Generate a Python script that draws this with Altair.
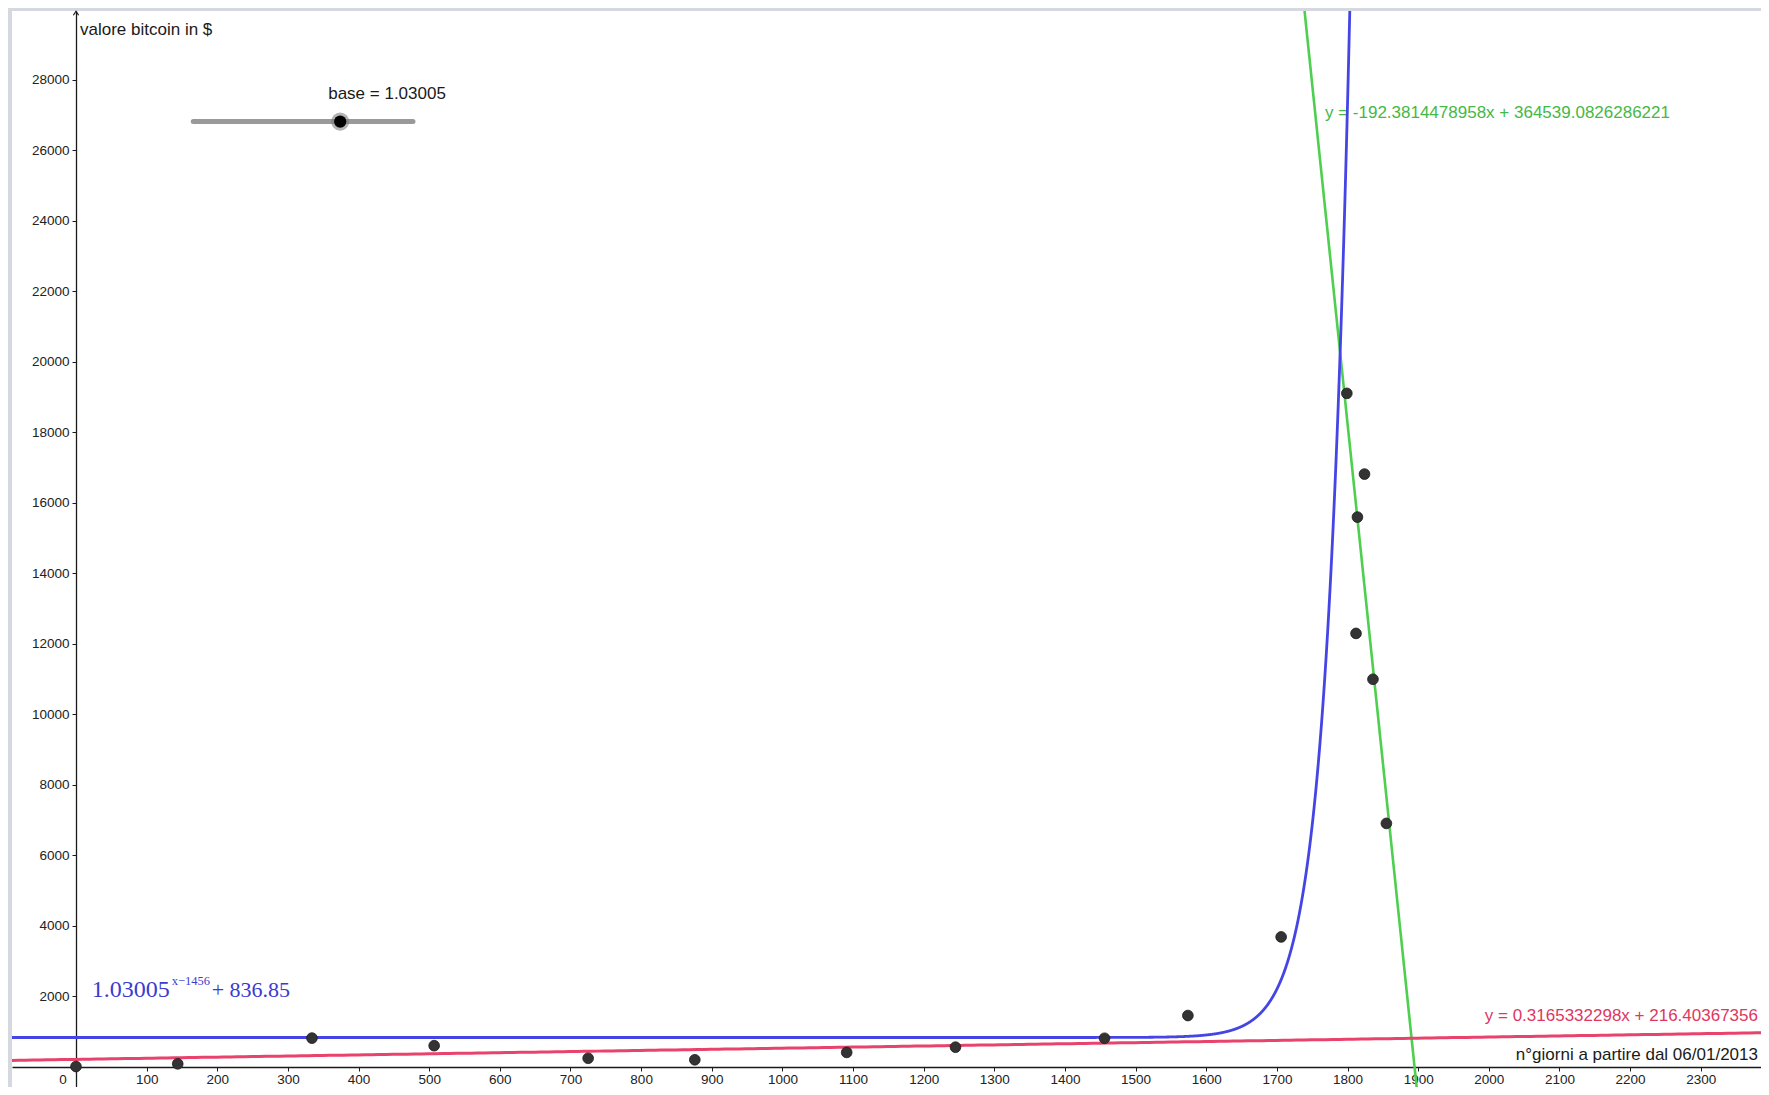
import altair as alt
import pandas as pd

# ---------------- data ----------------
days = [0, 144, 334, 507, 725, 876, 1091, 1245, 1456, 1574, 1706,
        1799, 1824, 1814, 1812, 1836, 1855]
price = [13, 90, 820, 605, 248, 205, 414, 562, 815, 1460, 3690,
         19110, 16820, 15600, 12300, 11000, 6910]

x_ticks = list(range(100, 2400, 100))
y_ticks = list(range(2000, 30000, 2000))

# fitted functions shown in the picture
exp_base, exp_shift, exp_const = 1.03005, 1456, 836.85
green_m, green_q = -192.3814478958, 364539.0826286221
red_m, red_q = 0.3165332298, 216.40367356

# slider "base"
slider_x = [166, 477]
slider_y = 26820
knob_x = 374

X_DOMAIN = [-90.6, 2385.3]
Y_DOMAIN = [-567.4, 29957]
W, H = 1749, 1076

FONT = "Liberation Sans, Arial, sans-serif"
SERIF = "Liberation Serif, Times New Roman, serif"
BLUE = "#4545e6"
RED = "#e8436c"
GREEN = "#4fcf4f"

xs = alt.Scale(domain=X_DOMAIN, nice=False, zero=False)
ys = alt.Scale(domain=Y_DOMAIN, nice=False, zero=False)

x_axis = alt.Axis(orient="bottom", offset=-20, values=x_ticks, title=None, grid=False,
                  format="d",
                  domainColor="#1a1a1a", domainWidth=1.3, tickColor="#1a1a1a",
                  tickSize=4, tickWidth=1, labelFont=FONT, labelFontSize=13.5,
                  labelColor="#222222", labelPadding=1, labelFlush=False,
                  labelOverlap=False)
y_axis = alt.Axis(orient="left", offset=-64, values=y_ticks, title=None, grid=False,
                  format="d",
                  domainColor="#1a1a1a", domainWidth=1.3, tickColor="#1a1a1a",
                  tickSize=4, tickWidth=1, labelFont=FONT, labelFontSize=13.5,
                  labelColor="#222222", labelPadding=3, labelFlush=False,
                  labelOverlap=False)


def X(field="x"):
    return alt.X(f"{field}:Q", scale=xs, axis=x_axis, title=None)


def Y(field="y"):
    return alt.Y(f"{field}:Q", scale=ys, axis=y_axis, title=None)


# ---------------- curves ----------------
blue = alt.Chart(alt.sequence(-91, 1806, 0.25, as_="x")).transform_calculate(
    y=f"pow({exp_base}, datum.x - {exp_shift}) + {exp_const}"
).transform_filter("datum.y < 40000").mark_line(
    color=BLUE, strokeWidth=2.8, clip=True
).encode(x=X(), y=Y())

green = alt.Chart(alt.sequence(1720, 1912, 2, as_="x")).transform_calculate(
    y=f"{green_m} * datum.x + {green_q}"
).mark_line(color=GREEN, strokeWidth=2.6, clip=True).encode(x=X(), y=Y())

red = alt.Chart(alt.sequence(-91, 2390, 10, as_="x")).transform_calculate(
    y=f"{red_m} * datum.x + {red_q}"
).mark_line(color=RED, strokeWidth=3, clip=True).encode(x=X(), y=Y())

# ---------------- points ----------------
pts = alt.Chart(pd.DataFrame({"x": days, "y": price})).mark_circle(
    size=115, color="#333333", opacity=1, stroke="#1a1a1a", strokeWidth=0.8
).encode(x=X(), y=Y())

# ---------------- texts ----------------
def label(df, **kw):
    return alt.Chart(pd.DataFrame(df)).mark_text(**kw).encode(
        x=X(), y=Y(), text="t:N")

y_title = label({"x": [5.7], "y": [29418], "t": ["valore bitcoin in $"]},
                align="left", baseline="middle", font=FONT, fontSize=17,
                color="#1a1a1a")
x_title = label({"x": [2381], "y": [340], "t": ["n°giorni a partire dal 06/01/2013"]},
                align="right", baseline="middle", font=FONT, fontSize=17,
                color="#1a1a1a")
zero_lbl = label({"x": [0], "y": [0], "t": ["0"]},
                 align="center", baseline="middle", font=FONT, fontSize=13.5,
                 color="#222222", dx=-13, dy=13)
green_lbl = label({"x": [1768], "y": [27055],
                   "t": ["y = -192.3814478958x + 364539.0826286221"]},
                  align="left", baseline="middle", font=FONT, fontSize=17,
                  color="#45b845")
red_lbl = label({"x": [2381], "y": [1447],
                 "t": ["y = 0.3165332298x + 216.40367356"]},
                align="right", baseline="middle", font=FONT, fontSize=17,
                color="#e0365f")
blue_a = label({"x": [22.2], "y": [1986], "t": ["1.03005"]},
               align="left", baseline="alphabetic", font=SERIF, fontSize=24,
               color="#3b3bd0")
blue_b = label({"x": [22.2], "y": [1986], "t": ["x−1456"]},
               align="left", baseline="alphabetic", font=SERIF, fontSize=12.5,
               color="#3b3bd0", dx=80, dy=-12)
blue_c = label({"x": [22.2], "y": [1986], "t": ["+ 836.85"]},
               align="left", baseline="alphabetic", font=SERIF, fontSize=22,
               color="#3b3bd0", dx=120)
slider_lbl = label({"x": [357], "y": [27603], "t": ["base = 1.03005"]},
                   align="left", baseline="middle", font=FONT, fontSize=17,
                   color="#1a1a1a")

# ---------------- slider ----------------
slider_line = alt.Chart(pd.DataFrame({"x": [slider_x[0]], "x2": [slider_x[1]],
                                      "y": [slider_y]})).mark_rule(
    color="#999999", strokeWidth=5, strokeCap="round"
).encode(x=X(), x2="x2:Q", y=Y())
knob_halo = alt.Chart(pd.DataFrame({"x": [knob_x], "y": [slider_y]})).mark_circle(
    size=330, color="#777777", opacity=0.55
).encode(x=X(), y=Y())
knob = alt.Chart(pd.DataFrame({"x": [knob_x], "y": [slider_y]})).mark_circle(
    size=150, color="#000000", opacity=1
).encode(x=X(), y=Y())

# ---------------- axis arrow ----------------
arrow = alt.Chart(pd.DataFrame({"x": [0], "y": [Y_DOMAIN[1]]})).mark_point(
    shape="M-1,1.6L0,0.1L1,1.6", size=28, filled=False, color="#1a1a1a",
    strokeWidth=1.2, opacity=1
).encode(x=X(), y=Y())

chart = alt.layer(
    y_title, x_title, zero_lbl, green_lbl, red_lbl, blue_a, blue_b, blue_c,
    slider_lbl, slider_line, knob_halo, knob,
    green, red, blue, pts, arrow
).properties(
    width=W, height=H,
    autosize=alt.AutoSizeParams(type="none"),
    padding={"left": 4, "top": 3, "right": 0, "bottom": 0},
    background="#d5d9df",
).configure_view(stroke=None, fill="white")

chart.save("out.html", embed_options={"renderer": "svg", "actions": False})
